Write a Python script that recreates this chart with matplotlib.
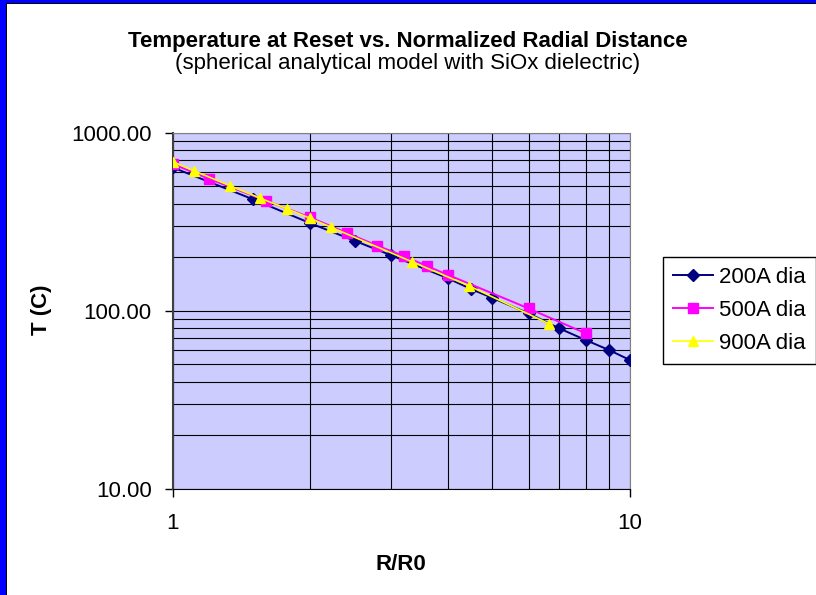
import numpy as np
import matplotlib.pyplot as plt
from matplotlib.patches import Rectangle
from matplotlib.ticker import FixedLocator, LogLocator, NullFormatter

plt.rcParams["font.family"] = ["Liberation Sans", "DejaVu Sans"]

# Normalized radial distance R/R0 and temperature (C) for each filament diameter
r_200 = [1.0, 1.5, 2.0, 2.5, 3.0, 4.0, 4.5, 5.0, 6.0, 7.0, 8.0, 9.0, 10.0]
t_200 = [638, 422, 310, 247, 205, 152, 132, 118, 96.6, 79.6, 68.4, 60.1, 52.8]

r_500 = [1.0, 1.2, 1.6, 2.0, 2.4, 2.8, 3.2, 3.6, 4.0, 6.0, 8.0]
t_500 = [667, 551, 415, 334, 274, 232, 203, 178, 159, 103, 74.6]

r_900 = [1.0, 10 / 9, 12 / 9, 14 / 9, 16 / 9, 2.0, 20 / 9, 30 / 9, 40 / 9, 60 / 9]
t_900 = [687, 612, 504, 428, 374, 330, 294, 188.5, 138, 84.2]

x_ticks = [1, 10]
y_ticks = [10, 100, 1000]

FS = 16
W, H = 816, 595
fig = plt.figure(figsize=(W / 100, H / 100), dpi=100)
fig.patch.set_facecolor("white")

# blue frame strips along the top and left edges
fig.add_artist(Rectangle((0, 0), 5.5 / W, 1, transform=fig.transFigure, color="#0000FF", lw=0))
fig.add_artist(Rectangle((0, 1 - 3 / H), 1, 3 / H, transform=fig.transFigure, color="#0000FF", lw=0))
fig.add_artist(Rectangle((5.5 / W, 0), 1.2 / W, 1 - 3 / H, transform=fig.transFigure, color="black", lw=0))
fig.add_artist(Rectangle((5.5 / W, 1 - 4.2 / H), 1, 1.2 / H, transform=fig.transFigure, color="black", lw=0))

ax = fig.add_axes([172.7 / W, 1 - 488.7 / H, (630 - 172.7) / W, (488.7 - 132.7) / H])
ax.set_facecolor("#CCCCFF")
ax.set_xscale("log")
ax.set_yscale("log")
ax.set_xlim(1, 10)
ax.set_ylim(10, 1000)

ax.plot(r_200, t_200, color="#000080", lw=1.4, marker="D", ms=6.5, label="200A dia", zorder=3)
ax.plot(r_500, t_500, color="#FF00FF", lw=1.4, marker="s", ms=6.5, label="500A dia", zorder=4)
ax.plot(r_900, t_900, color="#FFFF00", lw=1.2, marker="^", ms=7, label="900A dia", zorder=5)

ax.xaxis.set_major_locator(FixedLocator(x_ticks))
ax.xaxis.set_minor_locator(LogLocator(base=10, subs=np.arange(2, 10)))
ax.xaxis.set_minor_formatter(NullFormatter())
ax.set_xticklabels([str(v) for v in x_ticks])
ax.yaxis.set_major_locator(FixedLocator(y_ticks))
ax.yaxis.set_minor_locator(LogLocator(base=10, subs=np.arange(2, 10)))
ax.yaxis.set_minor_formatter(NullFormatter())
ax.set_yticklabels([f"{v:.2f}" for v in y_ticks])

ax.grid(True, which="both", color="black", lw=0.8, zorder=1)
ax.set_axisbelow(True)
ax.tick_params(which="major", direction="out", length=5.8, width=1, labelsize=FS, color="black")
ax.tick_params(axis="x", which="major", pad=12)
ax.tick_params(axis="y", which="major", pad=9.4)
ax.tick_params(which="minor", length=0)

ax.spines["left"].set_color("#404040")
ax.spines["left"].set_linewidth(1.5)
ax.spines["bottom"].set_color("black")
ax.spines["top"].set_color("#808080")
ax.spines["right"].set_color("#808080")

fig.text(408 / W, 1 - 41 / H, "Temperature at Reset vs. Normalized Radial Distance",
         ha="center", va="center", fontsize=FS, fontweight="bold")
fig.text(408 / W, 1 - 64 / H, "(spherical analytical model with SiOx dielectric)",
         ha="center", va="center", fontsize=FS)
fig.text(42 / W, 1 - 310 / H, "T (C)", ha="center", va="center", rotation=90,
         fontsize=FS, fontweight="bold")
fig.text(401 / W, 1 - 564 / H, "R/R0", ha="center", va="center", fontsize=FS, fontweight="bold")

leg = ax.legend(loc="upper left", bbox_to_anchor=(663 / W, 1 - 256.7 / H),
                bbox_transform=fig.transFigure, fontsize=FS, frameon=True, fancybox=False,
                edgecolor="black", framealpha=1, handlelength=1.8, handletextpad=0.28,
                labelspacing=0.55, borderpad=0.45, borderaxespad=0)
leg.get_frame().set_linewidth(1)

fig.savefig("out.png", dpi=100)
